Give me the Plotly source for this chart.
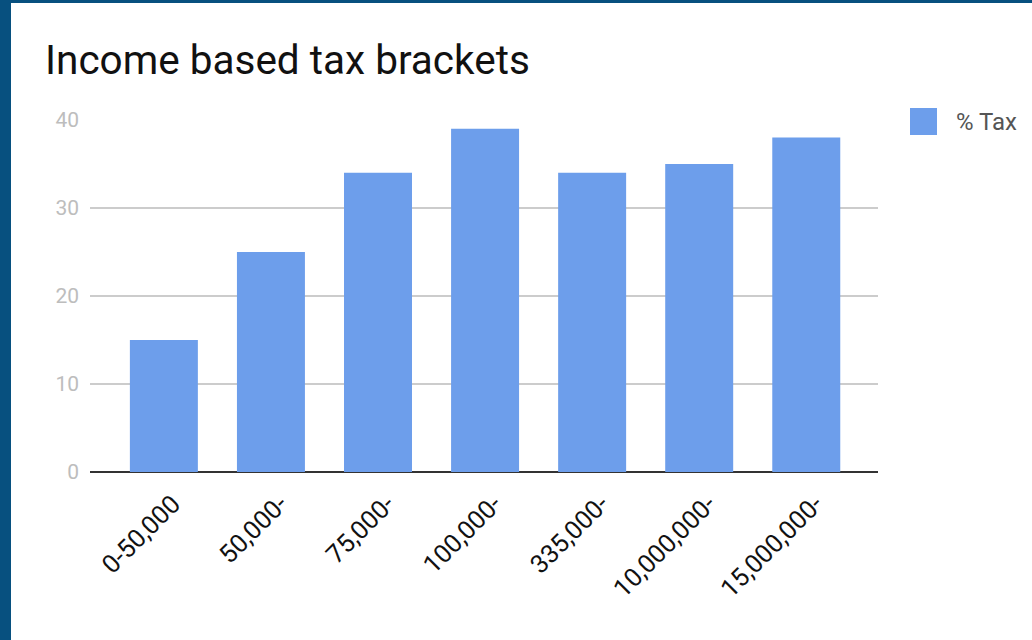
import plotly.graph_objects as go

categories = ["0-50,000", "50,000-", "75,000-", "100,000-", "335,000-", "10,000,000-", "15,000,000-"]
tax_pct = [15, 25, 34, 39, 34, 35, 38]
series_name = "% Tax"
y_ticks = [0, 10, 20, 30, 40]

W, H = 1032, 640
ml, mr, mt, mb = 90, 154, 120, 168
pw, ph = W - ml - mr, H - mt - mb
bar_color = "#6d9eeb"

fig = go.Figure()
fig.add_trace(go.Bar(x=categories, y=tax_pct, name=series_name,
                     marker=dict(color=bar_color, line=dict(width=0)),
                     showlegend=False))

border = "#07507f"

def px_x(p):
    return (p - ml) / pw

def px_y(p):
    return 1 - (p - mt) / ph

fig.update_layout(
    width=W, height=H,
    margin=dict(l=ml, r=mr, t=mt, b=mb, pad=0),
    paper_bgcolor="white", plot_bgcolor="white",
    font=dict(family="Roboto", size=19, color="#222"),
    title=dict(text="Income based tax brackets", x=45 / W, xanchor="left",
               y=1 - 60 / H, yanchor="middle",
               font=dict(family="Roboto", size=40.5, color="#111")),
    bargap=0.365,
    showlegend=False,
    xaxis=dict(tickangle=-45, tickfont=dict(size=25.5, color="#111"),
               range=[-0.69, 6.67],
               showgrid=False, ticks="", showline=False,
               ticklabelshift=9, ticklabelstandoff=11),
    yaxis=dict(range=[0, 40], tickvals=y_ticks, tickfont=dict(size=21, color="#bdbdbd"),
               gridcolor="#cccccc", gridwidth=1.5, zeroline=True, zerolinecolor="#333",
               zerolinewidth=2, ticks="", showline=False, ticklabelstandoff=10),
    shapes=[
        dict(type="rect", xref="paper", yref="paper", layer="above",
             x0=-ml / pw, x1=(11 - ml) / pw, y0=-mb / ph, y1=1 + mt / ph,
             fillcolor=border, line=dict(width=0)),
        dict(type="rect", xref="paper", yref="paper", layer="above",
             x0=-ml / pw, x1=1 + mr / pw, y0=1 + (mt - 3) / ph, y1=1 + mt / ph,
             fillcolor=border, line=dict(width=0)),
        # legend swatch
        dict(type="rect", xref="paper", yref="paper", layer="above",
             x0=px_x(910), x1=px_x(937), y0=px_y(135), y1=px_y(108),
             fillcolor=bar_color, line=dict(width=0)),
    ],
    annotations=[
        dict(text=series_name, xref="paper", yref="paper", x=px_x(954), y=px_y(122),
             xanchor="left", yanchor="middle", showarrow=False,
             font=dict(family="Roboto", size=24, color="#555")),
    ],
)

fig.write_html("out.html", config={"displayModeBar": False},
               post_script="document.body.style.margin='0';")
